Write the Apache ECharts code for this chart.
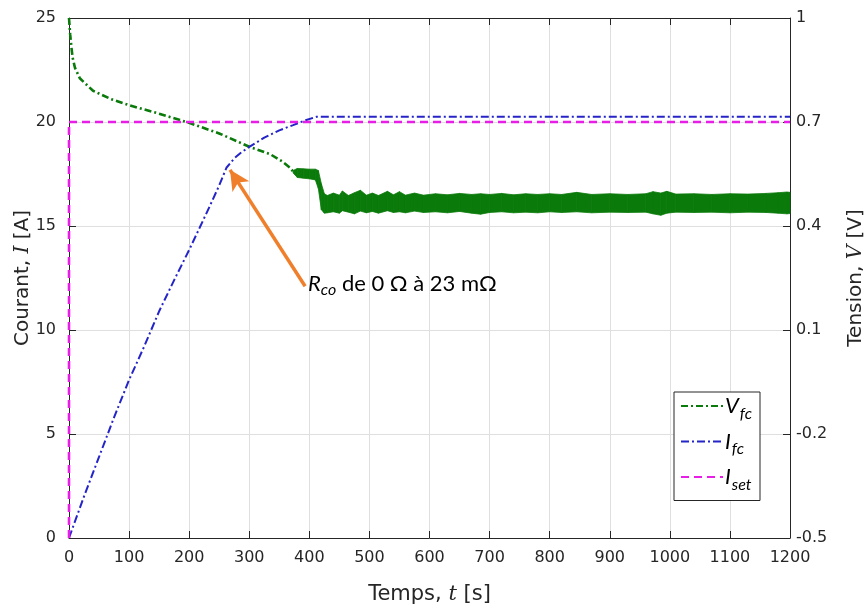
<!DOCTYPE html>
<html>
<head>
<meta charset="utf-8">
<script src="https://cdn.jsdelivr.net/npm/echarts@6/dist/echarts.min.js"></script>
<style>html,body{margin:0;padding:0;background:#fff}#c{width:866px;height:610px}</style>
</head>
<body>
<div id="c"></div>
<script>
// ---- data ----
// V_fc smooth part (time s, voltage V)
const tV = [0, 2, 4, 6, 10, 18, 40, 70, 101, 150, 201, 250, 301, 335, 355, 368, 373];
const vV = [1.0, 0.952, 0.916, 0.886, 0.856, 0.826, 0.79, 0.766, 0.748, 0.724, 0.697, 0.667, 0.628, 0.607, 0.586, 0.568, 0.557];
// V_fc noisy part: envelope (time s, upper V, lower V)
const tBand = [373, 380, 390, 400, 410, 415, 420, 425, 430, 440, 450, 455, 465, 475, 485, 495, 505, 515, 530, 540, 550, 560, 575, 590, 610, 630, 650, 670, 685, 700, 720, 740, 760, 780, 800, 820, 845, 870, 900, 930, 960, 972, 985, 995, 1010, 1040, 1070, 1100, 1130, 1160, 1180, 1195, 1200];
const vUpper = [0.560, 0.566, 0.565, 0.564, 0.564, 0.560, 0.522, 0.493, 0.488, 0.495, 0.489, 0.501, 0.488, 0.496, 0.503, 0.489, 0.495, 0.488, 0.500, 0.490, 0.499, 0.489, 0.495, 0.489, 0.493, 0.490, 0.494, 0.491, 0.493, 0.491, 0.494, 0.490, 0.493, 0.491, 0.493, 0.491, 0.497, 0.491, 0.493, 0.491, 0.493, 0.499, 0.495, 0.500, 0.492, 0.493, 0.491, 0.493, 0.492, 0.494, 0.496, 0.498, 0.497];
const vLower = [0.553, 0.540, 0.538, 0.536, 0.533, 0.508, 0.447, 0.437, 0.438, 0.441, 0.437, 0.444, 0.440, 0.435, 0.443, 0.438, 0.442, 0.437, 0.444, 0.439, 0.441, 0.438, 0.443, 0.439, 0.441, 0.438, 0.442, 0.437, 0.434, 0.439, 0.441, 0.438, 0.440, 0.438, 0.441, 0.439, 0.441, 0.438, 0.440, 0.439, 0.440, 0.435, 0.431, 0.437, 0.440, 0.439, 0.440, 0.438, 0.440, 0.439, 0.437, 0.435, 0.436];
// I_fc (time s, current A)
const tI = [0, 25, 50, 75, 100, 125, 150, 175, 200, 218, 235, 250, 262, 275, 285, 300, 325, 350, 373, 395, 412, 1200];
const iFc = [0, 2.0, 3.9, 5.8, 7.6, 9.2, 10.9, 12.4, 13.85, 14.95, 16.0, 16.95, 17.8, 18.25, 18.5, 18.8, 19.25, 19.6, 19.85, 20.1, 20.25, 20.25];
// I_set
const tSet = [0, 0, 1200];
const iSet = [0, 20, 20];
// tick labels / axes
const xTicks = [0, 100, 200, 300, 400, 500, 600, 700, 800, 900, 1000, 1100, 1200];
const leftTicks = [0, 5, 10, 15, 20, 25];
const rightTicks = [-0.5, -0.2, 0.1, 0.4, 0.7, 1];
// annotation arrow (from tail to head, in time s / current A)
const arrowFrom = [393, 12.1];
const arrowTo = [268, 17.7];

// ---- helpers ----
const vMin = rightTicks[0], vMax = rightTicks[rightTicks.length - 1];
const iMin = leftTicks[0], iMax = leftTicks[leftTicks.length - 1];
const toAxis = v => iMin + (v - vMin) / (vMax - vMin) * (iMax - iMin);
const fromAxis = a => vMin + (a - iMin) / (iMax - iMin) * (vMax - vMin);
const zip = (a, b) => a.map((x, i) => [x, b[i]]);

const FONT = 'DejaVu Sans';
const AX = '#262626';
const GRID = '#dfdfdf';
const GREEN = '#0a7a0a', BLUE = '#2424c8', MAG = '#e61ee6', ORANGE = '#f07f2c';

const chart = echarts.init(document.getElementById('c'), null, {renderer: 'canvas'});
const subRich = {
  m: {fontFamily: 'Lato', fontStyle: 'italic', fontSize: 22, color: '#000'},
  s: {fontFamily: 'Lato', fontStyle: 'italic', fontSize: 16, color: '#000', padding: [15, 0, 0, 1]}
};
const labelMap = {V_fc: '{m|V}{s|fc}', I_fc: '{m|I}{s|fc}', I_set: '{m|I}{s|set}'};
const nameStyle = {fontFamily: FONT, fontSize: 20, color: AX,
  rich: {i: {fontFamily: 'DejaVu Serif', fontStyle: 'italic', fontSize: 20, color: AX}}};
const xNameStyle = {fontFamily: FONT, fontSize: 21, color: AX,
  rich: {i: {fontFamily: 'DejaVu Serif', fontStyle: 'italic', fontSize: 21, color: AX}}};

const bandData = tBand.map((t, i) => [t, toAxis(vUpper[i]), toAxis(vLower[i])]);

chart.setOption({
  animation: false,
  backgroundColor: '#fff',
  grid: {left: 69, right: 76, top: 18, bottom: 72, containLabel: false, outerBoundsMode: 'none'},
  xAxis: [{
    type: 'value', min: xTicks[0], max: xTicks[xTicks.length - 1], interval: 100,
    position: 'bottom',
    name: 'Temps, {i|t} [s]', nameLocation: 'middle', nameGap: 46, nameMoveOverlap: false,
    nameTextStyle: xNameStyle,
    axisLine: {show: true, onZero: false, lineStyle: {color: AX, width: 1}},
    axisTick: {show: true, inside: true, length: 7, lineStyle: {color: AX}},
    axisLabel: {fontFamily: FONT, fontSize: 16, color: AX, margin: 12, formatter: v => String(v)},
    splitLine: {show: true, lineStyle: {color: GRID, width: 1}}
  }, {
    type: 'value', min: xTicks[0], max: xTicks[xTicks.length - 1], interval: 100,
    position: 'top',
    axisLine: {show: true, onZero: false, lineStyle: {color: AX, width: 1}},
    axisTick: {show: true, inside: true, length: 7, lineStyle: {color: AX}},
    axisLabel: {show: false}, splitLine: {show: false}
  }],
  yAxis: [{
    type: 'value', min: iMin, max: iMax, interval: 5, position: 'left',
    name: 'Courant, {i|I} [A]', nameLocation: 'middle', nameGap: 36, nameMoveOverlap: false,
    nameTextStyle: nameStyle,
    axisLine: {show: true, onZero: false, lineStyle: {color: AX, width: 1}},
    axisTick: {show: true, inside: true, length: 7, lineStyle: {color: AX}},
    axisLabel: {fontFamily: FONT, fontSize: 16, color: AX, margin: 13},
    splitLine: {show: true, lineStyle: {color: GRID, width: 1}}
  }, {
    type: 'value', min: iMin, max: iMax, interval: 5, position: 'right',
    name: 'Tension, {i|V} [V]', nameLocation: 'middle', nameGap: 56, nameMoveOverlap: false,
    nameTextStyle: nameStyle,
    axisLine: {show: true, onZero: false, lineStyle: {color: AX, width: 1}},
    axisTick: {show: true, inside: true, length: 7, lineStyle: {color: AX}},
    axisLabel: {fontFamily: FONT, fontSize: 16, color: AX, margin: 6,
      formatter: a => String(parseFloat(fromAxis(a).toFixed(2)))},
    splitLine: {show: false}
  }],
  legend: {
    orient: 'vertical', left: 674, top: 392,
    data: ['V_fc', 'I_fc', 'I_set'],
    itemWidth: 42, itemHeight: 12, itemGap: 9,
    padding: [3, 8, 8, 6],
    backgroundColor: '#fff', borderColor: AX, borderWidth: 1, borderRadius: 0,
    itemStyle: {opacity: 0},
    formatter: n => labelMap[n],
    textStyle: {rich: subRich, padding: [0, 0, 0, -3]}
  },
  series: [
    {
      name: 'V_fc band', type: 'custom', yAxisIndex: 1, silent: true, z: 2,
      encode: {x: 0, y: [1, 2]},
      data: bandData,
      renderItem: (params, api) => {
        const i = params.dataIndex;
        if (i >= bandData.length - 1) return null;
        const a = bandData[i], b = bandData[i + 1];
        const pts = [
          api.coord([a[0], a[1]]), api.coord([b[0], b[1]]),
          api.coord([b[0], b[2]]), api.coord([a[0], a[2]])
        ];
        return {type: 'polygon', shape: {points: pts},
          style: {fill: GREEN, stroke: GREEN, lineWidth: 0.8}};
      }
    },
    {
      name: 'V_fc', type: 'line', yAxisIndex: 1, symbol: 'none', showSymbol: false,
      data: zip(tV, vV.map(toAxis)),
      lineStyle: {color: GREEN, width: 2.6, type: [7, 3, 2, 3]},
      itemStyle: {color: GREEN}, z: 3
    },
    {
      name: 'I_fc', type: 'line', yAxisIndex: 0, symbol: 'none', showSymbol: false,
      data: zip(tI, iFc),
      lineStyle: {color: BLUE, width: 2, type: [8, 3, 2, 3]},
      itemStyle: {color: BLUE}, z: 4,
      markLine: {
        silent: true, symbol: ['none', 'arrow'], symbolSize: [15, 20],
        lineStyle: {color: ORANGE, width: 3.5, type: 'solid'},
        label: {show: false},
        data: [[{coord: arrowFrom}, {coord: arrowTo}]]
      }
    },
    {
      name: 'I_set', type: 'line', yAxisIndex: 0, symbol: 'none', showSymbol: false,
      data: zip(tSet, iSet),
      lineStyle: {color: MAG, width: 2.6, type: [8, 5]},
      itemStyle: {color: MAG}, z: 5
    }
  ],
  graphic: [{
    type: 'text', left: 308, top: 273, z: 10,
    style: {
      text: '{r|R}{s|co}{t| de 0 Ω à 23 mΩ}',
      rich: {
        r: {fontFamily: 'Lato', fontStyle: 'italic', fontSize: 22, fill: '#000'},
        s: {fontFamily: 'Lato', fontStyle: 'italic', fontSize: 16, fill: '#000', padding: [12, 0, 0, 0]},
        t: {fontFamily: 'Lato', fontSize: 22, fill: '#000'}
      }
    }
  }]
});
</script>
</body>
</html>
